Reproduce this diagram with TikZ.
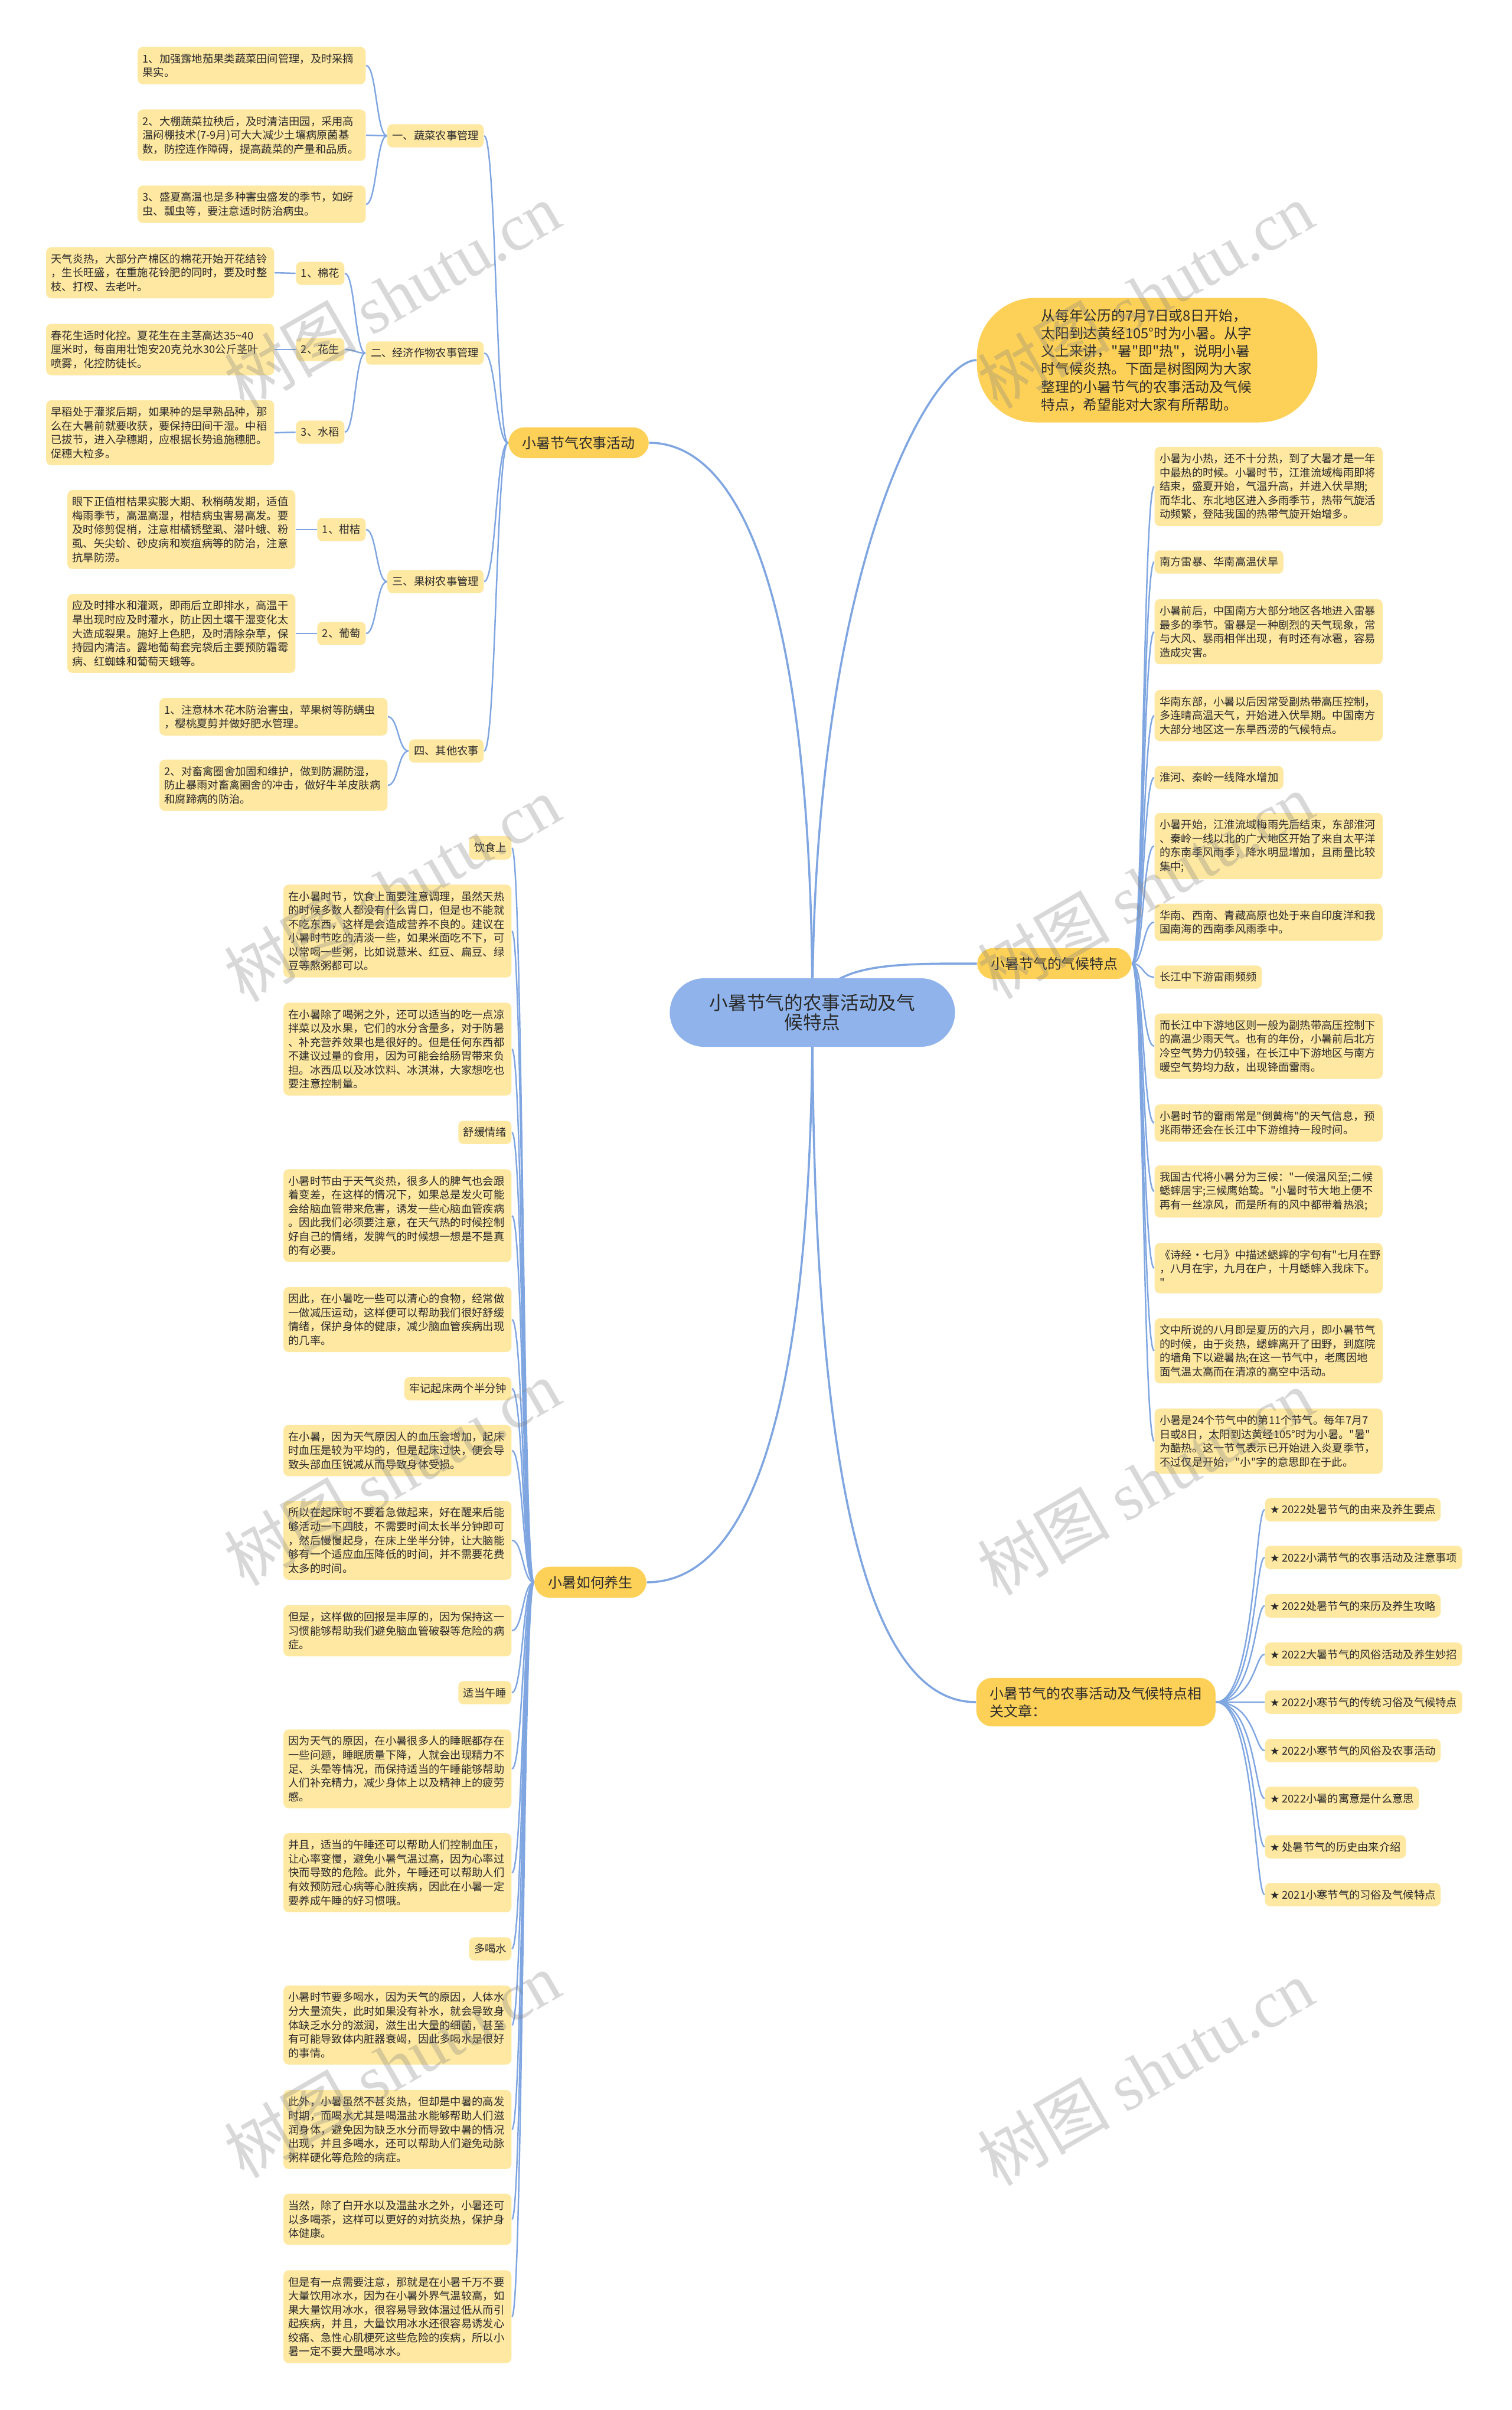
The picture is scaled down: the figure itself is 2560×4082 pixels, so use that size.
\documentclass[tikz,border=0pt]{standalone}
\usepackage{fontspec}
\setmainfont{Noto Sans CJK SC}[Ligatures=TeXOff]
\newfontfamily\wmserif{Liberation Serif}
\newfontfamily\symfont{DejaVu Sans}
\usetikzlibrary{calc}

\definecolor{leafyel}{HTML}{FEE8A2}
\definecolor{topicyel}{HTML}{FDD158}
\definecolor{rootblue}{HTML}{8FB3EA}
\definecolor{linkblue}{HTML}{7FA6E1}
\definecolor{ink}{HTML}{2A2A2A}

\pgfdeclarelayer{background}
\pgfsetlayers{background,main}

\newcommand{\starmark}{{\symfont ★}}
% curved links, parent on the right / on the left
\newcommand{\linkL}[2]{\draw[link] (#1.west) .. controls ($(#1.west)!.5!(#1.west -| #2.east)$) and ($(#2.east)!.5!(#2.east -| #1.west)$) .. (#2.east);}
\newcommand{\linkR}[2]{\draw[link] (#1.east) .. controls ($(#1.east)!.5!(#1.east -| #2.west)$) and ($(#2.west)!.5!(#2.west -| #1.east)$) .. (#2.west);}
% same, with the bend close to the child
\newcommand{\linkRfar}[2]{\draw[link] (#1.east) .. controls ($(#1.east)!.8!(#1.east -| #2.west)$) and ($(#2.west)!.2!(#2.west -| #1.east)$) .. (#2.west);}

\tikzset{
  leaf/.style={fill=leafyel, rounded corners=2.5pt, inner xsep=2.4pt, inner ysep=3.2pt, text=ink, font=\fontsize{5.2pt}{6.7pt}\selectfont, align=left},
  para/.style={leaf, text width=105pt},
  topic/.style={fill=topicyel, rounded corners=7.6pt, inner xsep=6.6pt, inner ysep=4.3pt, text=ink, font=\fontsize{6.8pt}{8.5pt}\selectfont, align=left},
  bubble/.style={fill=topicyel, rounded corners=28pt, inner xsep=31pt, text width=102pt, minimum height=60pt, text=ink, font=\fontsize{6.75pt}{8.6pt}\selectfont, align=left},
  root/.style={fill=rootblue, rounded corners=16.5pt, minimum width=137.4pt, minimum height=33pt, text=ink, font=\fontsize{9pt}{9.6pt}\selectfont, align=center},
  link/.style={draw=linkblue, line width=0.7pt},
  trunk/.style={draw=linkblue, line width=1pt},
  watermark/.style={text=gray, opacity=0.3, rotate=30, font=\fontsize{32pt}{32pt}\selectfont}
}

\begin{document}
\begin{tikzpicture}[x=0.01cm, y=-0.01cm]
  \useasboundingbox (0,0) rectangle (2560,4082);

  % Root
  \node[root] (root) at (1376,1715) {小暑节气的农事活动及气\\候特点};

  % Farming branch
  \node[topic] (farm) at (980,750) {小暑节气农事活动};
  \node[leaf, anchor=east] (veg) at (820,230) {一、蔬菜农事管理};
  \node[para, anchor=east] (veg1) at (620,111) {1、加强露地茄果类蔬菜田间管理，及时采摘\\果实。};
  \node[para, anchor=east] (veg2) at (620,229) {2、大棚蔬菜拉秧后，及时清洁田园，采用高\\温闷棚技术(7-9月)可大大减少土壤病原菌基\\数，防控连作障碍，提高蔬菜的产量和品质。};
  \node[para, anchor=east] (veg3) at (620,346) {3、盛夏高温也是多种害虫盛发的季节，如蚜\\虫、瓢虫等，要注意适时防治病虫。};
  \node[leaf, anchor=east] (crop) at (820,598) {二、经济作物农事管理};
  \node[leaf, anchor=east] (cotton) at (584,463) {1、棉花};
  \node[para, anchor=east] (cottonT) at (465,462) {天气炎热，大部分产棉区的棉花开始开花结铃\\，生长旺盛，在重施花铃肥的同时，要及时整\\枝、打杈、去老叶。};
  \node[leaf, anchor=east] (peanut) at (584,592) {2、花生};
  \node[para, anchor=east] (peanutT) at (465,592) {春花生适时化控。夏花生在主茎高达35\textasciitilde40\\厘米时，每亩用壮饱安20克兑水30公斤茎叶\\喷雾，化控防徒长。};
  \node[leaf, anchor=east] (rice) at (584,732) {3、水稻};
  \node[para, anchor=east] (riceT) at (465,733) {早稻处于灌浆后期，如果种的是早熟品种，那\\么在大暑前就要收获，要保持田间干湿。中稻\\已拔节，进入孕穗期，应根据长势追施穗肥。\\促穗大粒多。};
  \node[leaf, anchor=east] (fruit) at (820,985) {三、果树农事管理};
  \node[leaf, anchor=east] (citrus) at (620,897) {1、柑桔};
  \node[para, anchor=east] (citrusT) at (501,897) {眼下正值柑桔果实膨大期、秋梢萌发期，适值\\梅雨季节，高温高湿，柑桔病虫害易高发。要\\及时修剪促梢，注意柑橘锈壁虱、潜叶蛾、粉\\虱、矢尖蚧、砂皮病和炭疽病等的防治，注意\\抗旱防涝。};
  \node[leaf, anchor=east] (grape) at (620,1073) {2、葡萄};
  \node[para, anchor=east] (grapeT) at (501,1073) {应及时排水和灌溉，即雨后立即排水，高温干\\旱出现时应及时灌水，防止因土壤干湿变化太\\大造成裂果。施好上色肥，及时清除杂草，保\\持园内清洁。露地葡萄套完袋后主要预防霜霉\\病、红蜘蛛和葡萄天蛾等。};
  \node[leaf, anchor=east] (other) at (820,1272) {四、其他农事};
  \node[para, anchor=east] (other1) at (657,1214) {1、注意林木花木防治害虫，苹果树等防螨虫\\，樱桃夏剪并做好肥水管理。};
  \node[para, anchor=east] (other2) at (657,1330) {2、对畜禽圈舍加固和维护，做到防漏防湿，\\防止暴雨对畜禽圈舍的冲击，做好牛羊皮肤病\\和腐蹄病的防治。};

  % Intro bubble
  \node[bubble] (intro) at (1943,610) {从每年公历的7月7日或8日开始，\\太阳到达黄经105°时为小暑。从字\\义上来讲，"暑"即"热"，说明小暑\\时气候炎热。下面是树图网为大家\\整理的小暑节气的农事活动及气候\\特点，希望能对大家有所帮助。};

  % Climate branch
  \node[topic] (climate) at (1786,1632) {小暑节气的气候特点};
  \node[para, anchor=west] (cl1) at (1955,824) {小暑为小热，还不十分热，到了大暑才是一年\\中最热的时候。小暑时节，江淮流域梅雨即将\\结束，盛夏开始，气温升高，并进入伏旱期;\\而华北、东北地区进入多雨季节，热带气旋活\\动频繁，登陆我国的热带气旋开始增多。};
  \node[leaf, anchor=west] (cl2) at (1955,952) {南方雷暴、华南高温伏旱};
  \node[para, anchor=west] (cl3) at (1955,1070) {小暑前后，中国南方大部分地区各地进入雷暴\\最多的季节。雷暴是一种剧烈的天气现象，常\\与大风、暴雨相伴出现，有时还有冰雹，容易\\造成灾害。};
  \node[para, anchor=west] (cl4) at (1955,1212) {华南东部，小暑以后因常受副热带高压控制，\\多连晴高温天气，开始进入伏旱期。中国南方\\大部分地区这一东旱西涝的气候特点。};
  \node[leaf, anchor=west] (cl5) at (1955,1317) {淮河、秦岭一线降水增加};
  \node[para, anchor=west] (cl6) at (1955,1433) {小暑开始，江淮流域梅雨先后结束，东部淮河\\、秦岭一线以北的广大地区开始了来自太平洋\\的东南季风雨季，降水明显增加，且雨量比较\\集中;};
  \node[para, anchor=west] (cl7) at (1955,1562) {华南、西南、青藏高原也处于来自印度洋和我\\国南海的西南季风雨季中。};
  \node[leaf, anchor=west] (cl8) at (1955,1655) {长江中下游雷雨频频};
  \node[para, anchor=west] (cl9) at (1955,1772) {而长江中下游地区则一般为副热带高压控制下\\的高温少雨天气。也有的年份，小暑前后北方\\冷空气势力仍较强，在长江中下游地区与南方\\暖空气势均力敌，出现锋面雷雨。};
  \node[para, anchor=west] (cl10) at (1955,1902) {小暑时节的雷雨常是"倒黄梅"的天气信息，预\\兆雨带还会在长江中下游维持一段时间。};
  \node[para, anchor=west] (cl11) at (1955,2018) {我国古代将小暑分为三候："一候温风至;二候\\蟋蟀居宇;三候鹰始鸷。"小暑时节大地上便不\\再有一丝凉风，而是所有的风中都带着热浪;};
  \node[para, anchor=west] (cl12) at (1955,2148) {《诗经·七月》中描述蟋蟀的字句有"七月在野\\，八月在宇，九月在户，十月蟋蟀入我床下。\\"};
  \node[para, anchor=west] (cl13) at (1955,2288) {文中所说的八月即是夏历的六月，即小暑节气\\的时候，由于炎热，蟋蟀离开了田野，到庭院\\的墙角下以避暑热;在这一节气中，老鹰因地\\面气温太高而在清凉的高空中活动。};
  \node[para, anchor=west] (cl14) at (1955,2441) {小暑是24个节气中的第11个节气。每年7月7\\日或8日，太阳到达黄经105°时为小暑。"暑"\\为酷热。这一节气表示已开始进入炎夏季节，\\不过仅是开始，"小"字的意思即在于此。};

  % Health branch
  \node[topic] (health) at (1000,2680) {小暑如何养生};
  \node[leaf, anchor=east] (h1) at (867,1436) {饮食上};
  \node[para, anchor=east] (h2) at (867,1577) {在小暑时节，饮食上面要注意调理，虽然天热\\的时候多数人都没有什么胃口，但是也不能就\\不吃东西，这样是会造成营养不良的。建议在\\小暑时节吃的清淡一些，如果米面吃不下，可\\以常喝一些粥，比如说薏米、红豆、扁豆、绿\\豆等熬粥都可以。};
  \node[para, anchor=east] (h3) at (867,1777) {在小暑除了喝粥之外，还可以适当的吃一点凉\\拌菜以及水果，它们的水分含量多，对于防暑\\、补充营养效果也是很好的。但是任何东西都\\不建议过量的食用，因为可能会给肠胃带来负\\担。冰西瓜以及冰饮料、冰淇淋，大家想吃也\\要注意控制量。};
  \node[leaf, anchor=east] (h4) at (867,1918) {舒缓情绪};
  \node[para, anchor=east] (h5) at (867,2059) {小暑时节由于天气炎热，很多人的脾气也会跟\\着变差，在这样的情况下，如果总是发火可能\\会给脑血管带来危害，诱发一些心脑血管疾病\\。因此我们必须要注意，在天气热的时候控制\\好自己的情绪，发脾气的时候想一想是不是真\\的有必要。};
  \node[para, anchor=east] (h6) at (867,2235) {因此，在小暑吃一些可以清心的食物，经常做\\一做减压运动，这样便可以帮助我们很好舒缓\\情绪，保护身体的健康，减少脑血管疾病出现\\的几率。};
  \node[leaf, anchor=east] (h7) at (867,2352) {牢记起床两个半分钟};
  \node[para, anchor=east] (h8) at (867,2457) {在小暑，因为天气原因人的血压会增加，起床\\时血压是较为平均的，但是起床过快，便会导\\致头部血压锐减从而导致身体受损。};
  \node[para, anchor=east] (h9) at (867,2609) {所以在起床时不要着急做起来，好在醒来后能\\够活动一下四肢，不需要时间太长半分钟即可\\，然后慢慢起身，在床上坐半分钟，让大脑能\\够有一个适应血压降低的时间，并不需要花费\\太多的时间。};
  \node[para, anchor=east] (h10) at (867,2762) {但是，这样做的回报是丰厚的，因为保持这一\\习惯能够帮助我们避免脑血管破裂等危险的病\\症。};
  \node[leaf, anchor=east] (h11) at (867,2867) {适当午睡};
  \node[para, anchor=east] (h12) at (867,2996) {因为天气的原因，在小暑很多人的睡眠都存在\\一些问题，睡眠质量下降，人就会出现精力不\\足、头晕等情况，而保持适当的午睡能够帮助\\人们补充精力，减少身体上以及精神上的疲劳\\感。};
  \node[para, anchor=east] (h13) at (867,3172) {并且，适当的午睡还可以帮助人们控制血压，\\让心率变慢，避免小暑气温过高，因为心率过\\快而导致的危险。此外，午睡还可以帮助人们\\有效预防冠心病等心脏疾病，因此在小暑一定\\要养成午睡的好习惯哦。};
  \node[leaf, anchor=east] (h14) at (867,3301) {多喝水};
  \node[para, anchor=east] (h15) at (867,3430) {小暑时节要多喝水，因为天气的原因，人体水\\分大量流失，此时如果没有补水，就会导致身\\体缺乏水分的滋润，滋生出大量的细菌，甚至\\有可能导致体内脏器衰竭，因此多喝水是很好\\的事情。};
  \node[para, anchor=east] (h16) at (867,3607) {此外，小暑虽然不甚炎热，但却是中暑的高发\\时期，而喝水尤其是喝温盐水能够帮助人们滋\\润身体，避免因为缺乏水分而导致中暑的情况\\出现，并且多喝水，还可以帮助人们避免动脉\\粥样硬化等危险的病症。};
  \node[para, anchor=east] (h17) at (867,3759) {当然，除了白开水以及温盐水之外，小暑还可\\以多喝茶，这样可以更好的对抗炎热，保护身\\体健康。};
  \node[para, anchor=east] (h18) at (867,3924) {但是有一点需要注意，那就是在小暑千万不要\\大量饮用冰水，因为在小暑外界气温较高，如\\果大量饮用冰水，很容易导致体温过低从而引\\起疾病，并且，大量饮用冰水还很容易诱发心\\绞痛、急性心肌梗死这些危险的疾病，所以小\\暑一定不要大量喝冰水。};

  % Related articles
  \node[topic, text width=102pt, anchor=west] (links) at (1653,2883) {小暑节气的农事活动及气候特点相\\关文章：};
  \node[leaf, anchor=west] (a1) at (2142,2557) {\starmark{} 2022处暑节气的由来及养生要点};
  \node[leaf, anchor=west] (a2) at (2142,2638) {\starmark{} 2022小满节气的农事活动及注意事项};
  \node[leaf, anchor=west] (a3) at (2142,2720) {\starmark{} 2022处暑节气的来历及养生攻略};
  \node[leaf, anchor=west] (a4) at (2142,2802) {\starmark{} 2022大暑节气的风俗活动及养生妙招};
  \node[leaf, anchor=west] (a5) at (2142,2883) {\starmark{} 2022小寒节气的传统习俗及气候特点};
  \node[leaf, anchor=west] (a6) at (2142,2965) {\starmark{} 2022小寒节气的风俗及农事活动};
  \node[leaf, anchor=west] (a7) at (2142,3046) {\starmark{} 2022小暑的寓意是什么意思};
  \node[leaf, anchor=west] (a8) at (2142,3128) {\starmark{} 处暑节气的历史由来介绍};
  \node[leaf, anchor=west] (a9) at (2142,3209) {\starmark{} 2021小寒节气的习俗及气候特点};

  % Connectors
  \begin{pgfonlayer}{background}
    \fill[white] (0,0) rectangle (2560,4082);
    \draw[trunk] (root.center) .. controls (1376,1000) and (1250,750) .. (farm.east);
    \draw[trunk] (root.center) .. controls (1376,950) and (1580,609) .. (intro.west);
    \draw[trunk] (root.center) .. controls (1400,1632) and (1500,1632) .. (climate.west);
    \draw[trunk] (root.center) .. controls (1376,2450) and (1250,2680) .. (health.east);
    \draw[trunk] (root.center) .. controls (1376,2620) and (1500,2883) .. (links.west);

    \foreach \c in {veg,crop,fruit,other} {\linkL{farm}{\c}}
    \foreach \c in {veg1,veg2,veg3} {\linkL{veg}{\c}}
    \foreach \c in {cotton,peanut,rice} {\linkL{crop}{\c}}
    \linkL{cotton}{cottonT}
    \linkL{peanut}{peanutT}
    \linkL{rice}{riceT}
    \foreach \c in {citrus,grape} {\linkL{fruit}{\c}}
    \linkL{citrus}{citrusT}
    \linkL{grape}{grapeT}
    \foreach \c in {other1,other2} {\linkL{other}{\c}}

    \foreach \c in {cl1,cl2,cl3,cl4,cl5,cl6,cl7,cl8,cl9,cl10,cl11,cl12,cl13,cl14} {\linkR{climate}{\c}}
    \foreach \c in {h1,h2,h3,h4,h5,h6,h7,h8,h9,h10,h11,h12,h13,h14,h15,h16,h17,h18} {\linkL{health}{\c}}
    \foreach \c in {a1,a2,a3,a4,a5,a6,a7,a8,a9} {\linkRfar{links}{\c}}
  \end{pgfonlayer}

  % Watermarks
  \foreach \wx/\wy [count=\k] in {664/500, 1940/500, 664/1505, 1940/1500, 664/2494, 1940/2510, 664/3497, 1940/3510}
    \node[watermark] (wm\k) at (\wx,\wy) {树图 {\wmserif shutu.cn}};
\end{tikzpicture}
\end{document}
